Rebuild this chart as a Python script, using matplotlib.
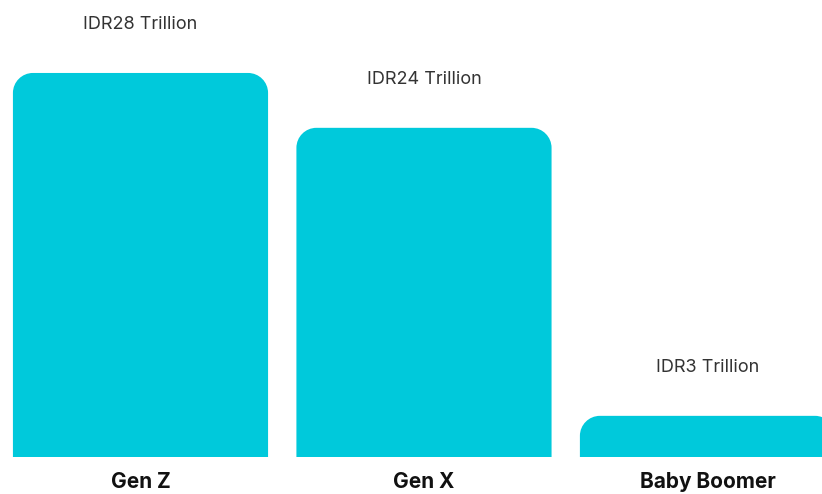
import matplotlib
matplotlib.use("Agg")
import matplotlib.pyplot as plt
from matplotlib.path import Path
from matplotlib.patches import PathPatch

plt.rcParams['font.family'] = ['Inter', 'DejaVu Sans']

# Spending by generation (IDR trillion)
generations = ['Gen Z', 'Gen X', 'Baby Boomer']
spending = [28, 24, 3]
value_labels = ['IDR28 Trillion', 'IDR24 Trillion', 'IDR3 Trillion']

BAR_COLOR = '#00C9DB'
BAR_WIDTH = 0.9
CORNER_PX = 20

fig = plt.figure(figsize=(8.22, 4.94), dpi=100)
ax = fig.add_axes([0, 0.0749, 1, 0.9251])
ax.set_xlim(-0.4956, 2.404)
ax.set_ylim(0, 33.32)

# pixel -> data scale factors so the corners stay circular
px_w = fig.get_figwidth() * fig.dpi * 1.0
px_h = fig.get_figheight() * fig.dpi * 0.9251
x0, x1 = ax.get_xlim()
y0, y1 = ax.get_ylim()
rx = CORNER_PX * (x1 - x0) / px_w
ry = CORNER_PX * (y1 - y0) / px_h
k = 0.5523  # bezier circle constant


def top_rounded_bar(xc, h):
    left, right = xc - BAR_WIDTH / 2, xc + BAR_WIDTH / 2
    verts = [
        (left, 0), (left, h - ry),
        (left, h - ry + k * ry), (left + rx - k * rx, h), (left + rx, h),
        (right - rx, h),
        (right - rx + k * rx, h), (right, h - ry + k * ry), (right, h - ry),
        (right, 0), (left, 0),
    ]
    codes = [Path.MOVETO, Path.LINETO,
             Path.CURVE4, Path.CURVE4, Path.CURVE4,
             Path.LINETO,
             Path.CURVE4, Path.CURVE4, Path.CURVE4,
             Path.LINETO, Path.CLOSEPOLY]
    return PathPatch(Path(verts, codes), facecolor=BAR_COLOR, edgecolor='none')


for i, (val, lab) in enumerate(zip(spending, value_labels)):
    ax.add_patch(top_rounded_bar(i, val))
    ax.annotate(lab, (i, val), xytext=(0, 29), textcoords='offset points',
                ha='center', va='bottom', fontsize=13, color='#333333')

ax.set_xticks(range(len(generations)))
ax.set_xticklabels(generations, fontsize=15, fontweight='bold', color='#111111')
ax.tick_params(axis='x', length=0, pad=11)
ax.set_yticks([])
for s in ax.spines.values():
    s.set_visible(False)

fig.savefig('out.png', dpi=100, facecolor='white')
